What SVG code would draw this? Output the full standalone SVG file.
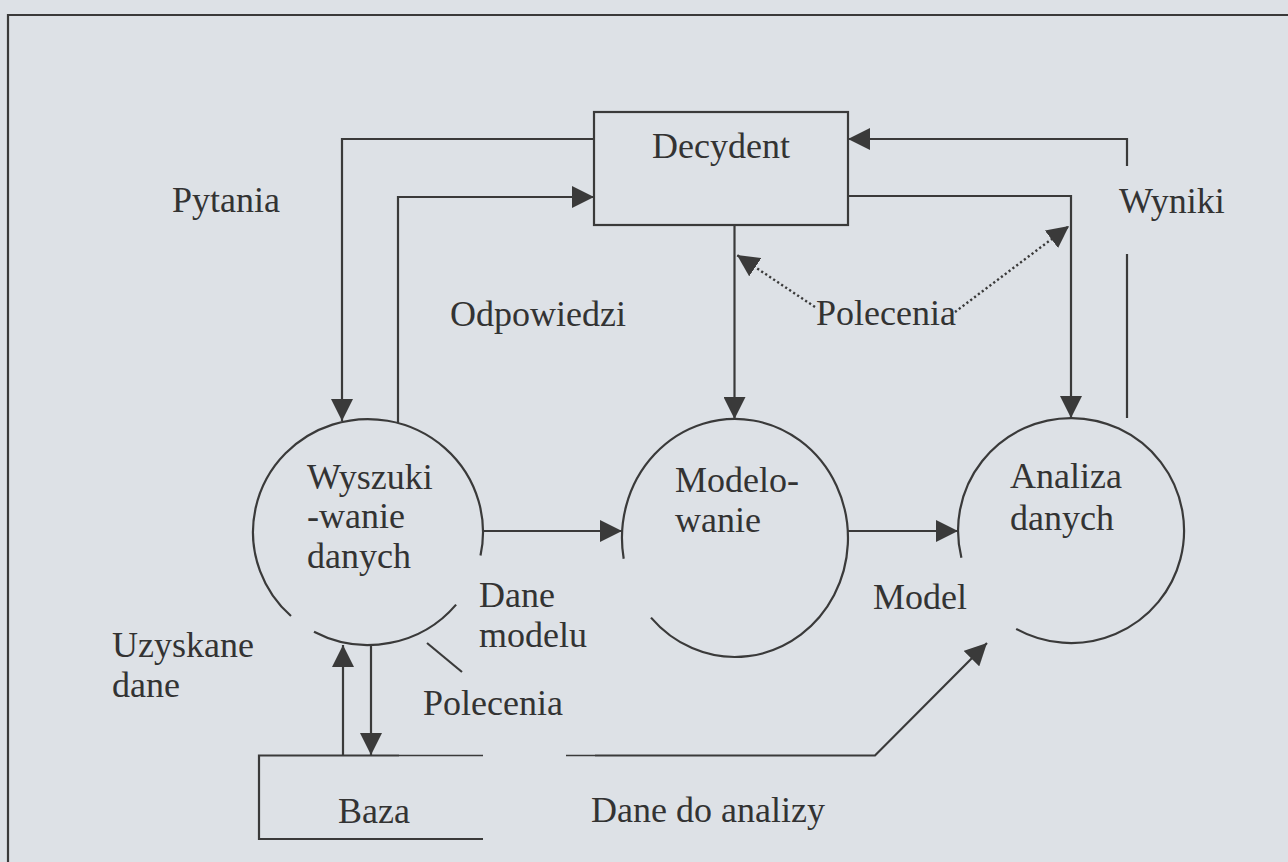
<svg xmlns="http://www.w3.org/2000/svg" width="1288" height="862" viewBox="0 0 1288 862">
<style>
.t{font-family:"Liberation Serif","Times New Roman",serif;font-size:36px;fill:#333}
.ln{fill:none;stroke:#3a3a3a;stroke-width:2.2}
.thin{fill:none;stroke:#3a3a3a;stroke-width:1.5}
.dot{fill:none;stroke:#3a3a3a;stroke-width:2.4;stroke-dasharray:2.2 2.6}
</style>
<defs>
<marker id="ah" markerUnits="userSpaceOnUse" markerWidth="22" markerHeight="22" refX="22" refY="11" orient="auto">
<path d="M0,0 L22,11 L0,22 z" fill="#3a3a3a"/>
</marker>
</defs>
<rect width="1288" height="862" fill="#dde1e6"/>
<path class="ln" d="M8,862 V15 H1288"/>

<g id="decydent">
<rect class="ln" x="594" y="112" width="254" height="113"/>
<text class="t" x="721" y="158" text-anchor="middle">Decydent</text>
</g>
<g id="wyszukiwanie">
<path class="ln" d="M456.1,604.6 A115,113 0 0 1 314.0,631.8"/>
<path class="ln" d="M291.0,616.0 A115,113 0 1 1 480.5,555.5"/>
<text class="t" x="307" y="489">Wyszuki</text>
<text class="t" x="307" y="528">-wanie</text>
<text class="t" x="307" y="568">danych</text>
</g>
<g id="modelowanie">
<path class="ln" d="M623.7,558.7 A113,119 0 1 1 651.0,617.6"/>
<text class="t" x="675" y="492">Modelo-</text>
<text class="t" x="675" y="532">wanie</text>
</g>
<g id="analiza">
<path class="ln" d="M961.4,557.7 A113,112.5 0 1 1 1016.2,628.9"/>
<text class="t" x="1010" y="488">Analiza</text>
<text class="t" x="1010" y="530">danych</text>
</g>
<g id="baza">
<path class="ln" d="M399,755.5 H259 V839 H483"/>
<path class="thin" d="M399,755.5 H483"/>
<text class="t" x="338" y="823">Baza</text>
</g>

<g id="connectors">
<path class="ln" d="M594,139 H342 V421" marker-end="url(#ah)"/>
<path class="ln" d="M398,423 V197 H594" marker-end="url(#ah)"/>
<path class="ln" d="M734.5,225 V419" marker-end="url(#ah)"/>
<path class="ln" d="M848,196 H1071 V418" marker-end="url(#ah)"/>
<path class="ln" d="M1127,418 V254"/>
<path class="ln" d="M1127,166 V139 H848" marker-end="url(#ah)"/>
<path class="ln" d="M483,531 H622" marker-end="url(#ah)"/>
<path class="ln" d="M848,531 H958" marker-end="url(#ah)"/>
<path class="ln" d="M343,755 V645" marker-end="url(#ah)"/>
<path class="ln" d="M371,644 V755" marker-end="url(#ah)"/>
<path class="ln" d="M427,643 L462,672"/>
<path class="thin" d="M566,755.5 H595"/>
<path class="ln" d="M595,755.5 H875 L987,643" marker-end="url(#ah)"/>
<path class="dot" d="M815,307 L737,255" marker-end="url(#ah)"/>
<path class="dot" d="M955,312 L1069,226" marker-end="url(#ah)"/>
</g>

<g id="labels">
<text class="t" x="172" y="212">Pytania</text>
<text class="t" x="1119" y="213">Wyniki</text>
<text class="t" x="450" y="326">Odpowiedzi</text>
<text class="t" x="816" y="325">Polecenia</text>
<text class="t" x="479" y="607">Dane</text>
<text class="t" x="479" y="647">modelu</text>
<text class="t" x="873" y="609">Model</text>
<text class="t" x="112" y="657">Uzyskane</text>
<text class="t" x="112" y="697">dane</text>
<text class="t" x="423" y="715">Polecenia</text>
<text class="t" x="591" y="822">Dane do analizy</text>
</g>
</svg>
